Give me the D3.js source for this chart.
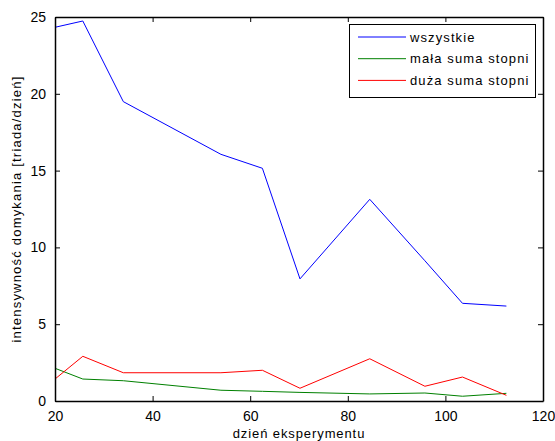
<!DOCTYPE html>
<html>
<head>
<meta charset="utf-8">
<script src="https://cdn.jsdelivr.net/npm/d3@7"></script>
<style>
	body { margin: 0; background: #fff; }
	text { font-family: "Liberation Sans", Arial, sans-serif; }
</style>
</head>
<body>
<div class="content"></div>
<script>
	// days on which measurements were taken
	var days = [20, 25.7, 34, 54, 62.5, 70.2, 84.5, 95.8, 103.5, 112.5];
	var wszystkie = [24.33, 24.74, 19.49, 16.06, 15.15, 7.95, 13.13, 9.13, 6.36, 6.18];
	var malaSuma = [2.13, 1.43, 1.32, 0.70, 0.63, 0.56, 0.46, 0.52, 0.31, 0.50];
	var duzaSuma = [1.43, 2.91, 1.84, 1.84, 2.00, 0.83, 2.75, 0.96, 1.56, 0.37];
	var seriesNames = ["wszystkie", "mała suma stopni", "duża suma stopni"];
	var seriesColors = ["#0000ff", "#008000", "#ff0000"];
	var xTicks = [20, 40, 60, 80, 100, 120];
	var yTicks = [0, 5, 10, 15, 20, 25];

	var width = 555, height = 441;
	// plot box edges (window.top is read-only, so prefixed names)
	var plotLeft = 55, plotRight = 543, plotTop = 17, plotBottom = 401;

	var svg = d3.select(".content")
		.append("svg")
		.attr("width", width)
		.attr("height", height);

	var x = d3.scaleLinear().domain([20, 120]).range([plotLeft, plotRight]);
	var y = d3.scaleLinear().domain([0, 25]).range([plotBottom, plotTop]);

	// series lines
	var allSeries = [wszystkie, malaSuma, duzaSuma];
	var line = d3.line()
		.x(function(d, i) { return x(days[i]); })
		.y(function(d) { return y(d); });

	allSeries.forEach(function(vals, k) {
		svg.append("path")
			.datum(vals)
			.attr("d", line)
			.attr("fill", "none")
			.attr("stroke", seriesColors[k])
			.attr("stroke-width", 1);
	});

	// axes, ticks inward on all four sides (matlab box)
	var fontSize = "14px";
	svg.append("g")
		.attr("transform", "translate(0," + plotBottom + ")")
		.call(d3.axisBottom(x).tickValues(xTicks).tickSizeInner(-5).tickSizeOuter(0).tickPadding(10))
		.call(styleAxis);
	svg.append("g")
		.attr("transform", "translate(0," + plotTop + ")")
		.call(d3.axisTop(x).tickValues(xTicks).tickSizeInner(-5).tickSizeOuter(0).tickFormat(""))
		.call(styleAxis);
	svg.append("g")
		.attr("transform", "translate(" + plotLeft + ",0)")
		.call(d3.axisLeft(y).tickValues(yTicks).tickSizeInner(-5).tickSizeOuter(0).tickPadding(9))
		.call(styleAxis);
	svg.append("g")
		.attr("transform", "translate(" + plotRight + ",0)")
		.call(d3.axisRight(y).tickValues(yTicks).tickSizeInner(-5).tickSizeOuter(0).tickFormat(""))
		.call(styleAxis);

	function styleAxis(g) {
		g.select(".domain").attr("stroke", "#000").attr("stroke-width", 1.5);
		g.selectAll(".tick line").attr("stroke", "#000").attr("stroke-width", 1);
		g.selectAll(".tick text")
			.attr("fill", "#000")
			.style("font-size", fontSize)
			.style("font-family", "'Liberation Sans', Arial, sans-serif");
	}

	// axis titles (matlab renders them with loose spacing)
	svg.append("text")
		.text("dzień eksperymentu")
		.attr("x", (plotLeft + plotRight) / 2)
		.attr("y", 438)
		.attr("text-anchor", "middle")
		.style("font-size", "13px")
		.style("letter-spacing", "0.9px");

	svg.append("text")
		.text("intensywność domykania [triada/dzień]")
		.attr("transform", "translate(21," + (plotTop + plotBottom) / 2 + ") rotate(-90)")
		.attr("text-anchor", "middle")
		.style("font-size", "13px")
		.style("letter-spacing", "1.2px");

	// legend
	var legend = svg.append("g");
	legend.append("rect")
		.attr("x", 349.5)
		.attr("y", 24.5)
		.attr("width", 186)
		.attr("height", 73)
		.attr("fill", "#fff")
		.attr("stroke", "#000")
		.attr("stroke-width", 1);

	seriesNames.forEach(function(name, k) {
		var ly = 37 + k * 21.7;
		legend.append("line")
			.attr("x1", 358).attr("x2", 406)
			.attr("y1", ly).attr("y2", ly)
			.attr("stroke", seriesColors[k])
			.attr("stroke-width", 1);
		legend.append("text")
			.text(name)
			.attr("x", 410)
			.attr("y", ly + 4.5)
			.style("font-size", "13px")
			.style("letter-spacing", "1.1px");
	});
</script>
</body>
</html>
